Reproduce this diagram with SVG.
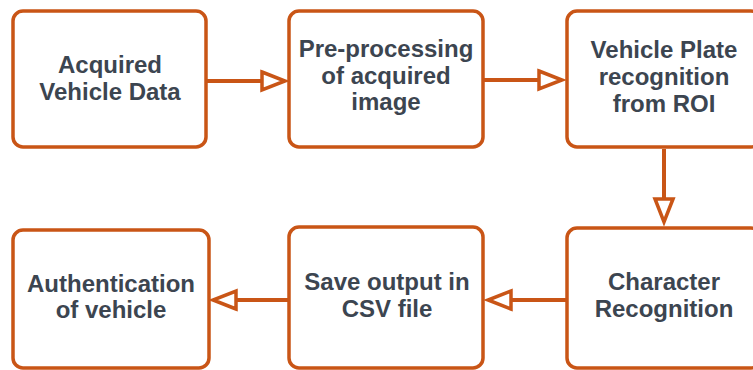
<svg xmlns="http://www.w3.org/2000/svg" width="753" height="370" viewBox="0 0 753 370">
<style>
.box{fill:#ffffff;stroke:#c95516;stroke-width:3.5}
.t{font-family:"Liberation Sans",Arial,sans-serif;font-weight:bold;font-size:24px;fill:#3c4550;text-anchor:middle}
.c{stroke:#c95516;stroke-width:4;fill:none}
</style>
<defs>
<marker id="ah" markerUnits="userSpaceOnUse" markerWidth="30" markerHeight="26" refX="24" refY="10" orient="auto" overflow="visible">
<path d="M1,1 L24,10 L1,19 Z" fill="#ffffff" stroke="#c95516" stroke-width="3.5" stroke-linejoin="miter"/>
</marker>
</defs>
<rect width="753" height="370" fill="#ffffff"/>
<g id="connectors">
<line class="c" x1="206" y1="81" x2="285" y2="81" marker-end="url(#ah)"/>
<line class="c" x1="483" y1="80" x2="562" y2="80" marker-end="url(#ah)"/>
<line class="c" x1="664" y1="149" x2="664" y2="222" marker-end="url(#ah)"/>
<line class="c" x1="567" y1="300" x2="488" y2="300" marker-end="url(#ah)"/>
<line class="c" x1="289" y1="300" x2="213" y2="300" marker-end="url(#ah)"/>
</g>
<g id="n1">
<rect class="box" x="13" y="11" width="193" height="136" rx="10"/>
<text class="t" x="110" y="73">Acquired</text>
<text class="t" x="110" y="100">Vehicle Data</text>
</g>
<g id="n2">
<rect class="box" x="289" y="11" width="194" height="136" rx="10"/>
<text class="t" x="386" y="57">Pre-processing</text>
<text class="t" x="386" y="84">of acquired</text>
<text class="t" x="386" y="110">image</text>
</g>
<g id="n3">
<rect class="box" x="567" y="11" width="194" height="136" rx="10"/>
<text class="t" x="664" y="58">Vehicle Plate</text>
<text class="t" x="664" y="85">recognition</text>
<text class="t" x="664" y="112">from ROI</text>
</g>
<g id="n4">
<rect class="box" x="13" y="230" width="196" height="138" rx="10"/>
<text class="t" x="111" y="292">Authentication</text>
<text class="t" x="111" y="318">of vehicle</text>
</g>
<g id="n5">
<rect class="box" x="289" y="227" width="194" height="141" rx="10"/>
<text class="t" x="387" y="290">Save output in</text>
<text class="t" x="387" y="317">CSV file</text>
</g>
<g id="n6">
<rect class="box" x="567" y="228" width="194" height="140" rx="10"/>
<text class="t" x="664" y="290">Character</text>
<text class="t" x="664" y="317">Recognition</text>
</g>
</svg>
